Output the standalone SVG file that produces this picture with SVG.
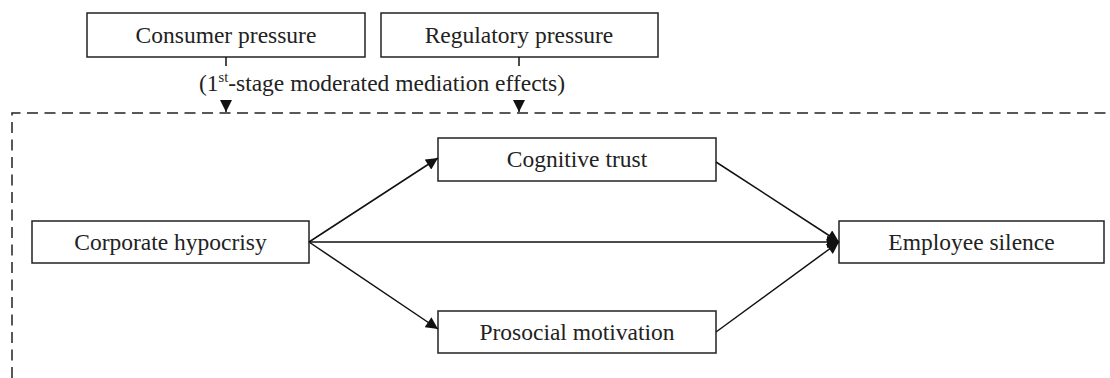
<svg xmlns="http://www.w3.org/2000/svg" width="1110" height="378" viewBox="0 0 1110 378">
<style>
.box{fill:#fff;stroke:#222;stroke-width:1.5}
.t{font-family:"Liberation Serif",serif;font-size:23.5px;fill:#222;text-anchor:middle}
.c{stroke:#111;stroke-width:1.5;fill:none}
.d{stroke:#222;stroke-width:1.5;fill:none;stroke-dasharray:11 6.5}
</style>
<defs>
<marker id="ah" viewBox="0 0 10 10" refX="10" refY="5" markerWidth="13" markerHeight="12" markerUnits="userSpaceOnUse" orient="auto">
<path d="M0,0 L10,5 L0,10 Z" fill="#111"/>
</marker>
</defs>
<rect width="1110" height="378" fill="#fff"/>
<path class="d" d="M12,378 L12,113 L1110,113"/>
<g id="consumer"><rect class="box" x="87" y="13" width="278" height="44"/><text class="t" x="226" y="43">Consumer pressure</text></g>
<g id="regulatory"><rect class="box" x="381" y="13" width="277" height="44"/><text class="t" x="519" y="43">Regulatory pressure</text></g>
<text class="t" x="382" y="91">(1<tspan font-size="14.5" dy="-9">st</tspan><tspan dy="9">-stage moderated mediation effects)</tspan></text>
<g id="hypocrisy"><rect class="box" x="32" y="221" width="277" height="42"/><text class="t" x="170.5" y="250">Corporate hypocrisy</text></g>
<g id="cognitive"><rect class="box" x="438" y="138" width="278" height="43"/><text class="t" x="577" y="167">Cognitive trust</text></g>
<g id="prosocial"><rect class="box" x="438" y="311" width="278" height="42"/><text class="t" x="577" y="340">Prosocial motivation</text></g>
<g id="silence"><rect class="box" x="839" y="221" width="265" height="42"/><text class="t" x="971.5" y="250">Employee silence</text></g>
<g id="connectors">
<line class="c" x1="226" y1="57" x2="226" y2="66"/>
<line class="c" x1="519" y1="57" x2="519" y2="66"/>
<line class="c" x1="226" y1="100" x2="226" y2="112" marker-end="url(#ah)"/>
<line class="c" x1="519" y1="100" x2="519" y2="112" marker-end="url(#ah)"/>
<line class="c" x1="309" y1="242" x2="438" y2="158" marker-end="url(#ah)"/>
<line class="c" x1="309" y1="242" x2="438" y2="329" marker-end="url(#ah)"/>
<line class="c" x1="309" y1="242" x2="839" y2="242" marker-end="url(#ah)"/>
<line class="c" x1="716" y1="162" x2="839" y2="242" marker-end="url(#ah)"/>
<line class="c" x1="716" y1="332" x2="839" y2="242" marker-end="url(#ah)"/>
</g>
</svg>
